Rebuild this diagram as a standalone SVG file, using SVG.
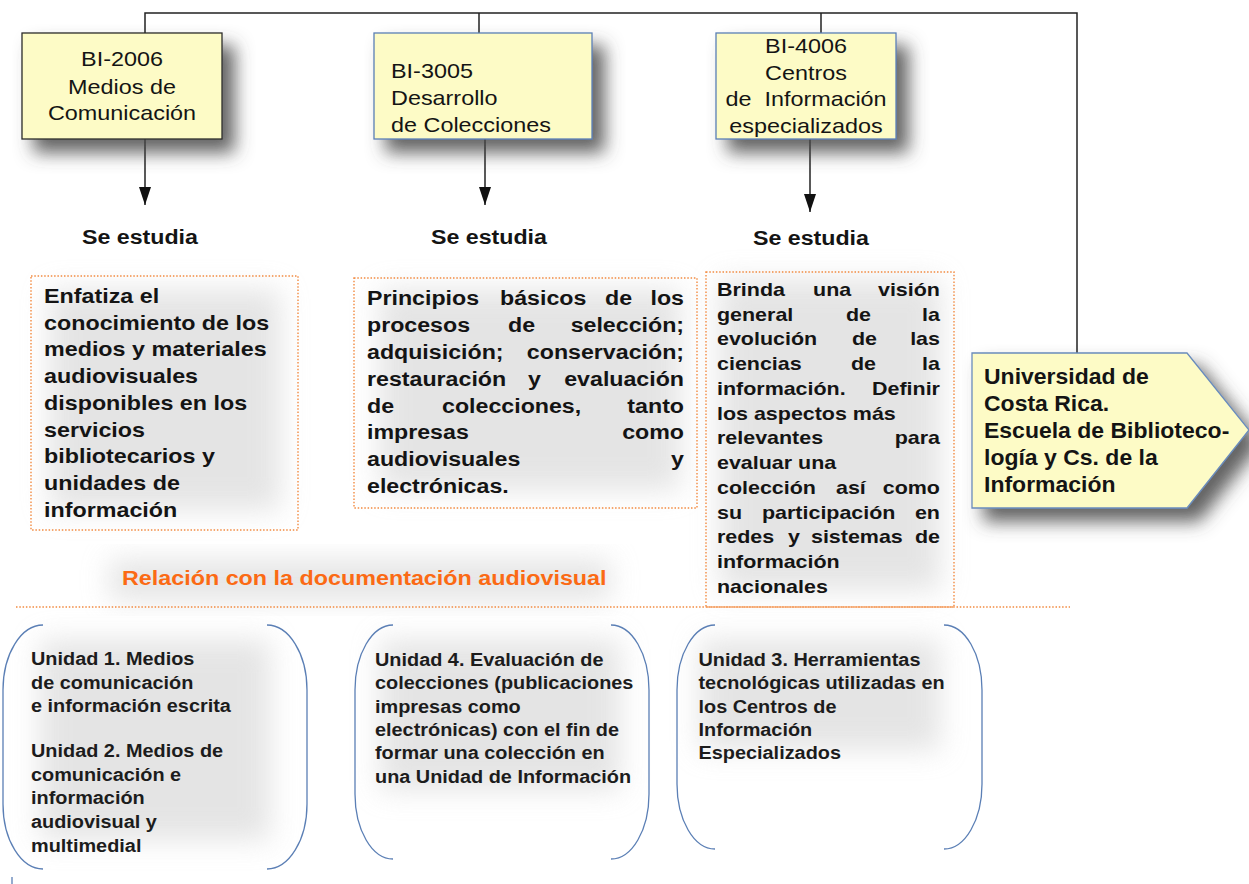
<svg xmlns="http://www.w3.org/2000/svg" width="1249" height="884" viewBox="0 0 1249 884">
<defs>
<style>
text{font-family:"Liberation Sans",Arial,sans-serif;fill:#141414}
.r20{font-size:20px}
.b20{font-size:20px;font-weight:bold}
.b18{font-size:18.5px;font-weight:bold}
.bu{font-size:18.5px;font-weight:bold;fill:#1c1c1c}
.bp{font-size:22px;font-weight:bold}
.end{text-anchor:end}
.box{fill:#fdfbc6;stroke-width:1.3}
.dot{fill:none;stroke:#f28a40;stroke-width:1.4;stroke-dasharray:1.5 1.8}
.br{fill:none;stroke:#5b7fb5;stroke-width:1.3}
.ln{fill:none;stroke:#222;stroke-width:1.5}
.soft{fill:#cfcfcf;opacity:.55}
</style>
<filter id="ds" x="-40%" y="-40%" width="190%" height="190%"><feDropShadow dx="12" dy="13" stdDeviation="9" flood-color="#4a4a4a" flood-opacity="0.85"/></filter>
<filter id="bl" x="-40%" y="-40%" width="180%" height="180%"><feGaussianBlur stdDeviation="14"/></filter>
<marker id="ah" viewBox="0 0 18 12" refX="18" refY="6" markerWidth="18" markerHeight="12" markerUnits="userSpaceOnUse" orient="auto"><path d="M0,0 L18,6 L0,12 Z" fill="#111"/></marker>
</defs>
<rect width="1249" height="884" fill="#fff"/>
<g id="background">
<rect x="50" y="290" width="230" height="220" class="soft" filter="url(#bl)"/>
<rect x="380" y="290" width="300" height="200" class="soft" filter="url(#bl)"/>
<rect x="720" y="280" width="220" height="310" class="soft" filter="url(#bl)"/>
<rect x="40" y="640" width="230" height="200" class="soft" filter="url(#bl)" opacity=".35"/>
<rect x="380" y="640" width="240" height="150" class="soft" filter="url(#bl)" opacity=".35"/>
<rect x="700" y="640" width="240" height="110" class="soft" filter="url(#bl)" opacity=".35"/>
<rect x="110" y="560" width="500" height="40" class="soft" filter="url(#bl)" opacity=".3"/>
</g>
<g id="connectors">
<path class="ln" d="M145,33 V13 H1077 V353"/>
<path class="ln" d="M479,13 V33"/>
<path class="ln" d="M821,13 V33"/>
<path class="ln" d="M145,139 V205" marker-end="url(#ah)"/>
<path class="ln" d="M485,139 V205" marker-end="url(#ah)"/>
<path class="ln" d="M810,139 V212" marker-end="url(#ah)"/>
<path d="M16,607 H1070" fill="none" stroke="#f28a40" stroke-width="1.4" stroke-dasharray="1.5 1.8"/>
</g>
<g id="bi2006">
<rect x="22" y="33" width="200" height="106" class="box" stroke="#2b2b2b" filter="url(#ds)"/>
<g transform="translate(122 0) scale(1.17 1)" text-anchor="middle" class="r20">
<text x="0" y="66.5" class="r20">BI-2006</text>
<text x="0" y="94" class="r20">Medios de</text>
<text x="0" y="120.5" class="r20">Comunicación</text>
</g>
</g>
<g id="bi3005">
<rect x="374" y="33" width="218" height="106" class="box" stroke="#5b7fb5" filter="url(#ds)"/>
<g transform="translate(391 0) scale(1.17 1)">
<text x="0" y="78.3" class="r20">BI-3005</text>
<text x="0" y="105.3" class="r20">Desarrollo</text>
<text x="0" y="132" class="r20">de Colecciones</text>
</g>
</g>
<g id="bi4006">
<rect x="716" y="33" width="180" height="106" class="box" stroke="#5b7fb5" filter="url(#ds)"/>
<g transform="translate(806 0) scale(1.17 1)" text-anchor="middle">
<text x="0" y="53" class="r20">BI-4006</text>
<text x="0" y="80" class="r20">Centros</text>
<text x="0" y="106.5" class="r20" xml:space="preserve">de  Información</text>
<text x="0" y="133" class="r20">especializados</text>
</g>
</g>
<g id="ucr">
<path d="M972,353 H1187 L1249,430 L1187,508 H972 Z" class="box" stroke="#6a8cbc" filter="url(#ds)"/>
<g transform="translate(984 0) scale(1.045 1)">
<text x="0" y="384" class="bp">Universidad de</text>
<text x="0" y="411" class="bp">Costa Rica.</text>
<text x="0" y="438" class="bp">Escuela de Biblioteco-</text>
<text x="0" y="465" class="bp">logía y Cs. de la</text>
<text x="0" y="492" class="bp">Información</text>
</g>
</g>
<g id="se-estudia-1"><text transform="translate(82 244) scale(1.16 1)" class="b20">Se estudia</text></g>
<g id="se-estudia-2"><text transform="translate(431 244) scale(1.16 1)" class="b20">Se estudia</text></g>
<g id="se-estudia-3"><text transform="translate(753 245) scale(1.16 1)" class="b20">Se estudia</text></g>
<g id="desc-2006">
<rect x="31" y="276" width="267" height="254" class="dot"/>
<g transform="translate(44 0) scale(1.165 1)" class="b20">
<text x="0" y="303" class="b20">Enfatiza el</text>
<text x="0" y="329.75" class="b20">conocimiento de los</text>
<text x="0" y="356.5" class="b20">medios y materiales</text>
<text x="0" y="383.25" class="b20">audiovisuales</text>
<text x="0" y="410" class="b20">disponibles en los</text>
<text x="0" y="436.75" class="b20">servicios</text>
<text x="0" y="463.5" class="b20">bibliotecarios y</text>
<text x="0" y="490.25" class="b20">unidades de</text>
<text x="0" y="517" class="b20">información</text>
</g>
</g>
<g id="desc-3005">
<rect x="354" y="278" width="343" height="230" class="dot"/>
<g transform="translate(367 0) scale(1.16 1)">
<text y="305" class="b20"><tspan x="0">Principios</tspan><tspan x="114.7">básicos</tspan><tspan x="205.2">de</tspan></text>
<text x="273.3" y="305" class="b20 end">los</text>
<text y="331.9" class="b20"><tspan x="0">procesos</tspan><tspan x="121.6">de</tspan></text>
<text x="273.3" y="331.9" class="b20 end">selección;</text>
<text x="0" y="358.8" class="b20">adquisición;</text>
<text x="273.3" y="358.8" class="b20 end">conservación;</text>
<text y="385.7" class="b20"><tspan x="0">restauración</tspan><tspan x="138.8">y</tspan></text>
<text x="273.3" y="385.7" class="b20 end">evaluación</text>
<text y="412.6" class="b20"><tspan x="0">de</tspan><tspan x="64.7">colecciones,</tspan></text>
<text x="273.3" y="412.6" class="b20 end">tanto</text>
<text x="0" y="439.5" class="b20">impresas</text>
<text x="273.3" y="439.5" class="b20 end">como</text>
<text x="0" y="466.4" class="b20">audiovisuales</text>
<text x="273.3" y="466.4" class="b20 end">y</text>
<text x="0" y="493.3" class="b20">electrónicas.</text>
</g>
</g>
<g id="desc-4006">
<rect x="706" y="272" width="248" height="335" class="dot"/>
<g transform="translate(717 0) scale(1.16 1)">
<text y="296" class="b18"><tspan x="0">Brinda</tspan><tspan x="82.8">una</tspan></text>
<text x="192.2" y="296" class="b18 end">visión</text>
<text y="320.75" class="b18"><tspan x="0">general</tspan><tspan x="111.2">de</tspan></text>
<text x="192.2" y="320.75" class="b18 end">la</text>
<text y="345.5" class="b18"><tspan x="0">evolución</tspan><tspan x="116.4">de</tspan></text>
<text x="192.2" y="345.5" class="b18 end">las</text>
<text y="370.25" class="b18"><tspan x="0">ciencias</tspan><tspan x="115.5">de</tspan></text>
<text x="192.2" y="370.25" class="b18 end">la</text>
<text x="0" y="395" class="b18">información.</text>
<text x="192.2" y="395" class="b18 end">Definir</text>
<text x="0" y="419.75" class="b18">los aspectos más</text>
<text x="0" y="444.5" class="b18">relevantes</text>
<text x="192.2" y="444.5" class="b18 end">para</text>
<text x="0" y="469.25" class="b18">evaluar una</text>
<text y="494" class="b18"><tspan x="0">colección</tspan><tspan x="102.6">así</tspan></text>
<text x="192.2" y="494" class="b18 end">como</text>
<text y="518.75" class="b18"><tspan x="0">su</tspan><tspan x="38.8">participación</tspan></text>
<text x="192.2" y="518.75" class="b18 end">en</text>
<text y="543.5" class="b18"><tspan x="0">redes</tspan><tspan x="61.2">y</tspan><tspan x="81">sistemas</tspan></text>
<text x="192.2" y="543.5" class="b18 end">de</text>
<text x="0" y="568.25" class="b18">información</text>
<text x="0" y="593" class="b18">nacionales</text>
</g>
</g>
<g id="relacion">
<text transform="translate(122 585) scale(1.166 1)" class="b20" style="fill:#fb6a14">Relación con la documentación audiovisual</text>
</g>
<g id="unidades-2006">
<path class="br" d="M43,625 A40,65 0 0 0 3,690 V804 A40,65 0 0 0 43,869"/>
<path class="br" d="M267,625 A40,65 0 0 1 307,690 V804 A40,65 0 0 1 267,869"/>
<g transform="translate(31 0) scale(1.075 1)">
<text x="0" y="665" class="bu">Unidad 1. Medios</text>
<text x="0" y="689" class="bu">de comunicación</text>
<text x="0" y="712" class="bu">e información escrita</text>
<text x="0" y="757" class="bu">Unidad 2. Medios de</text>
<text x="0" y="781" class="bu">comunicación e</text>
<text x="0" y="804" class="bu">información</text>
<text x="0" y="828" class="bu">audiovisual y</text>
<text x="0" y="852" class="bu">multimedial</text>
</g>
</g>
<g id="unidades-3005">
<path class="br" d="M393,625 A38,65 0 0 0 355,690 V794 A38,65 0 0 0 393,859"/>
<path class="br" d="M611,625 A38,65 0 0 1 649,690 V794 A38,65 0 0 1 611,859"/>
<g transform="translate(375 0) scale(1.075 1)">
<text x="0" y="666" class="bu">Unidad 4. Evaluación de</text>
<text x="0" y="689.5" class="bu">colecciones (publicaciones</text>
<text x="0" y="713" class="bu">impresas como</text>
<text x="0" y="736" class="bu">electrónicas) con el fin de</text>
<text x="0" y="759.5" class="bu">formar una colección en</text>
<text x="0" y="783" class="bu">una Unidad de Información</text>
</g>
</g>
<g id="unidades-4006">
<path class="br" d="M715,625 A38,65 0 0 0 677,690 V784 A38,65 0 0 0 715,849"/>
<path class="br" d="M944,625 A38,65 0 0 1 982,690 V784 A38,65 0 0 1 944,849"/>
<g transform="translate(698.5 0) scale(1.075 1)">
<text x="0" y="666" class="bu">Unidad 3. Herramientas</text>
<text x="0" y="689.5" class="bu">tecnológicas utilizadas en</text>
<text x="0" y="713" class="bu">los Centros de</text>
<text x="0" y="736" class="bu">Información</text>
<text x="0" y="759.5" class="bu">Especializados</text>
</g>
</g>
<path d="M12,877 V884" stroke="#5b7fb5" stroke-width="1.3"/>
</svg>
